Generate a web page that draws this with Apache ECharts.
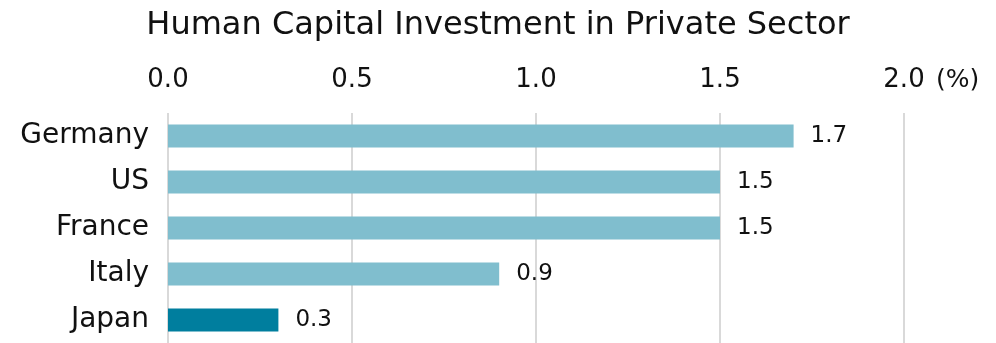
<!DOCTYPE html>
<html>
<head>
<meta charset="utf-8">
<script src="https://cdn.jsdelivr.net/npm/echarts@6/dist/echarts.min.js"></script>
<style>
  html, body { margin: 0; padding: 0; background: #ffffff; }
  #chart { width: 996px; height: 343px; }
</style>
</head>
<body>
<div id="chart"></div>
<script>
// Countries, top to bottom
const countries = ['Germany', 'US', 'France', 'Italy', 'Japan'];
// Private-sector human capital investment, % of GDP
const investment = [1.7, 1.5, 1.5, 0.9, 0.3];
// Value-axis ticks
const tickValues = [0.0, 0.5, 1.0, 1.5, 2.0];

const FONT = 'DejaVu Sans';
const baseColor = '#80BECE';
const highlightColor = '#007E9E';

const chart = echarts.init(document.getElementById('chart'), null, { renderer: 'canvas' });

chart.setOption({
  animation: false,
  backgroundColor: '#ffffff',
  title: {
    text: 'Human Capital Investment in Private Sector',
    left: 'center',
    top: 5,
    textStyle: { fontFamily: FONT, fontSize: 32, fontWeight: 'normal', color: '#111111' }
  },
  grid: { left: 168, right: 92, top: 113, bottom: -2, containLabel: false },
  xAxis: {
    type: 'value',
    position: 'top',
    min: tickValues[0],
    max: tickValues[tickValues.length - 1],
    interval: 0.5,
    name: '(%)',
    nameLocation: 'end',
    nameGap: 32,
    nameTextStyle: {
      fontFamily: FONT, fontSize: 25, color: '#111111',
      verticalAlign: 'bottom', padding: [0, 0, 20, 0]
    },
    axisLine: { show: false },
    axisTick: { show: false },
    axisLabel: {
      fontFamily: FONT, fontSize: 26, color: '#111111', margin: 20,
      formatter: v => v.toFixed(1)
    },
    splitLine: { show: true, lineStyle: { color: '#d9d9d9', width: 2 } }
  },
  yAxis: {
    type: 'category',
    data: countries,
    inverse: true,
    axisLine: { show: false },
    axisTick: { show: false },
    axisLabel: {
      fontFamily: FONT, fontSize: 28, color: '#111111', margin: 19,
      padding: [9, 0, 0, 0]
    }
  },
  series: [{
    type: 'bar',
    data: investment.map((v, i) => ({
      value: v,
      itemStyle: { color: countries[i] === 'Japan' ? highlightColor : baseColor }
    })),
    barCategoryGap: '50%',
    label: {
      show: true,
      position: 'right',
      distance: 17,
      fontFamily: FONT,
      fontSize: 23,
      color: '#111111',
      padding: [8, 0, 0, 0],
      formatter: p => p.value.toFixed(1)
    }
  }]
});
</script>
</body>
</html>
